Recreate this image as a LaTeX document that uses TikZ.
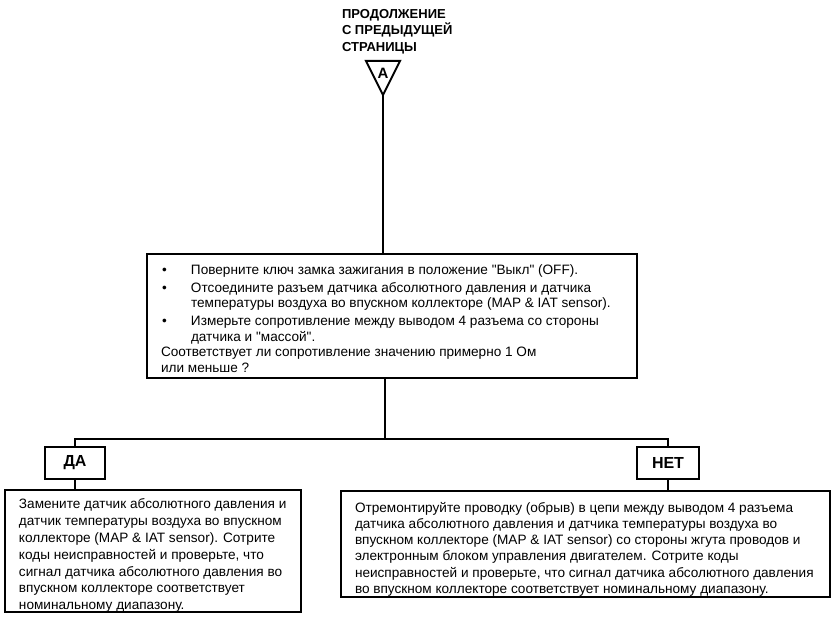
\documentclass[tikz,border=0pt]{standalone}
\usepackage{fontspec}
\setmainfont{Liberation Sans}
\begin{document}
\begin{tikzpicture}[x=1pt,y=1pt,
  line width=2pt,
  box/.style={draw, rectangle, inner sep=0pt},
  lbl/.style={box, font=\bfseries\fontsize{16}{18}\selectfont},
  txt/.style={anchor=north west, inner sep=0pt, align=left},
  conn/.style={line width=2pt}]
\useasboundingbox (0,0) rectangle (838,-617);
\fill[white] (0,0) rectangle (838,-617);
% title
\node[txt, font=\bfseries\fontsize{13}{16.5}\selectfont] (title) at (341,-8) {ПРОДОЛЖЕНИЕ\\С ПРЕДЫДУЩЕЙ\\СТРАНИЦЫ};
% triangle connector
\coordinate (triL) at (366,-61);
\coordinate (triR) at (400,-61);
\coordinate (triB) at (383,-95);
\draw[line join=miter] (triL) -- (triR) -- (triB) -- cycle;
\node[font=\bfseries\fontsize{15}{17}\selectfont, inner sep=0pt] (A) at (383,-73) {A};
% boxes
\node[box, minimum width=490, minimum height=124] (main) at (392,-316) {};
\node[txt, font=\fontsize{13.6}{15.8}\selectfont] (maintext) at (160,-264) {%
\hspace*{1pt}\makebox[29pt][l]{•}Поверните ключ замка зажигания в положение \textquotedbl Выкл\textquotedbl{} (OFF).\\[1.5pt]
\hspace*{1pt}\makebox[29pt][l]{•}Отсоедините разъем датчика абсолютного давления и датчика\\
\hspace*{30pt}температуры воздуха во впускном коллекторе (MAP \& IAT sensor).\\[1.5pt]
\hspace*{1pt}\makebox[29pt][l]{•}Измерьте сопротивление между выводом 4 разъема со стороны\\
\hspace*{30pt}датчика и \textquotedbl массой\textquotedbl.\\
Соответствует ли сопротивление значению примерно 1 Ом\\
или меньше ?};
\node[lbl, minimum width=60, minimum height=32] (da) at (75,-463) {ДА};
\node[lbl, minimum width=62, minimum height=32] (net) at (668,-463) {НЕТ};
\node[box, minimum width=296, minimum height=122] (lbox) at (153,-551) {};
\node[txt, font=\fontsize{13.6}{16.8}\selectfont] (ltext) at (18,-498) {%
Замените датчик абсолютного давления и\\
датчик температуры воздуха во впускном\\
коллекторе (MAP \& IAT sensor). Сотрите\\
коды неисправностей и проверьте, что\\
сигнал датчика абсолютного давления во\\
впускном коллекторе соответствует\\
номинальному диапазону.};
\node[box, minimum width=489, minimum height=106] (rbox) at (585.5,-544) {};
\node[txt, font=\fontsize{13.6}{16.3}\selectfont] (rtext) at (354,-501) {%
Отремонтируйте проводку (обрыв) в цепи между выводом 4 разъема\\
датчика абсолютного давления и датчика температуры воздуха во\\
впускном коллекторе (MAP \& IAT sensor) со стороны жгута проводов и\\
электронным блоком управления двигателем. Сотрите коды\\
неисправностей и проверьте, что сигнал датчика абсолютного давления\\
во впускном коллекторе соответствует номинальному диапазону.};
% connectors
\coordinate (j) at (385,-439);
\draw[conn] (triB) -- (triB |- main.north);
\draw[conn] (main.south -| j) -- (j);
\draw[conn] (da.north) -- (da.north |- j) -- (net.north |- j) -- (net.north);
\draw[conn] (da.south) -- (da.south |- lbox.north);
\draw[conn] (net.south) -- (net.south |- rbox.north);
\end{tikzpicture}
\end{document}
